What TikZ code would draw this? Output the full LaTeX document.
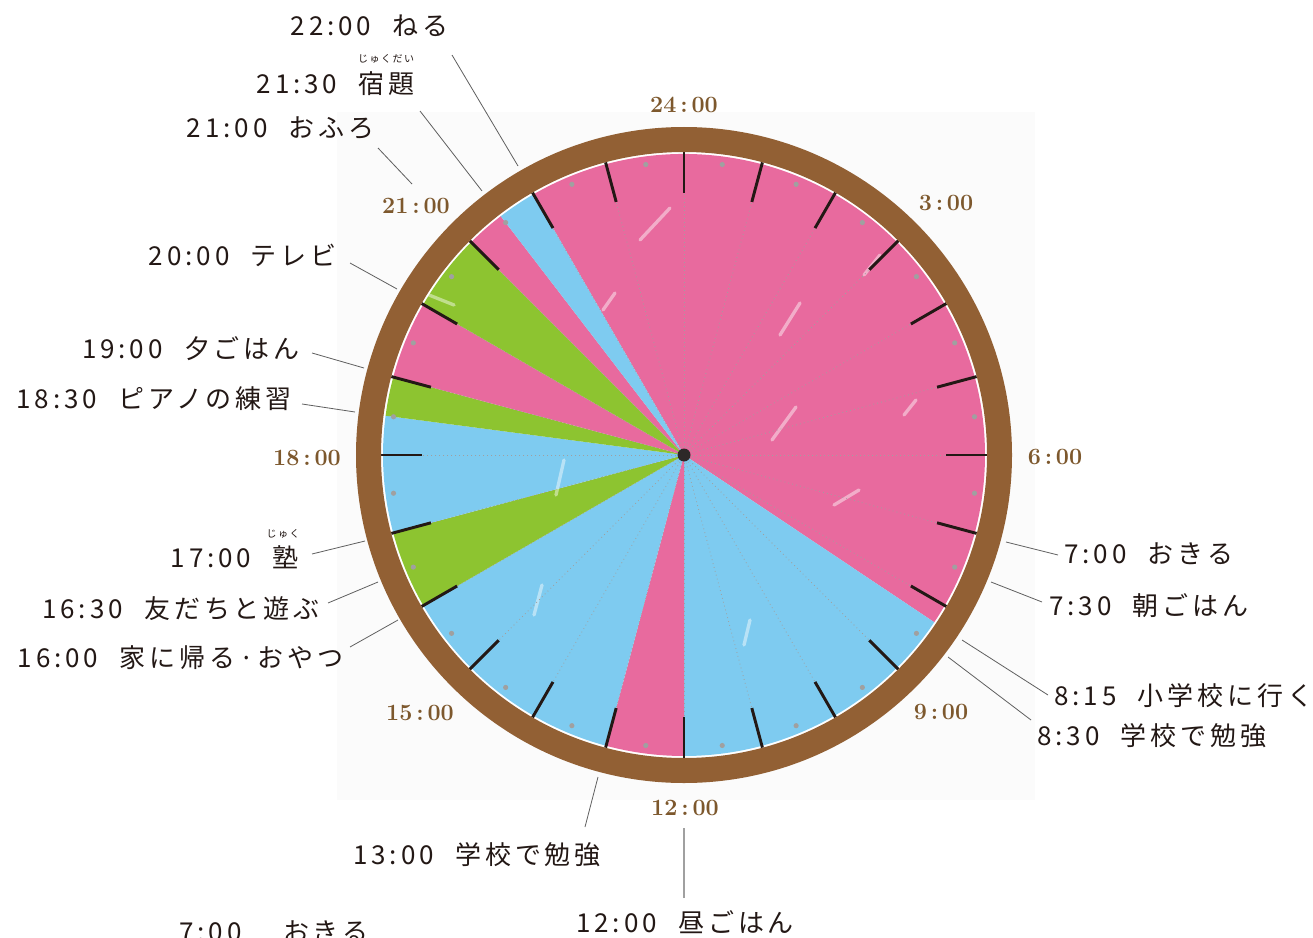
\documentclass[tikz,border=0pt]{standalone}
\usepackage{fontspec}
\newfontfamily\jp[LetterSpace=15]{Noto Sans CJK JP}
\definecolor{pinkfill}{RGB}{232,106,158}
\definecolor{bluefill}{RGB}{126,203,240}
\definecolor{greenfill}{RGB}{141,196,48}
\definecolor{rimbrown}{RGB}{146,96,52}
\definecolor{hourbrown}{RGB}{125,88,45}
\definecolor{textdark}{RGB}{35,24,21}
\definecolor{leader}{RGB}{95,95,95}
\definecolor{dotgray}{RGB}{160,160,160}
\definecolor{hubdark}{RGB}{45,40,40}
\definecolor{paper}{RGB}{251,251,251}
% extra gap between a time and its activity
\newcommand\tgap{\hspace{0.45em}}

\begin{document}
\begin{tikzpicture}[x=0.75pt,y=-0.75pt,
  lbl/.style={font=\jp\fontsize{19.5}{23}\selectfont, text=textdark, inner sep=0pt},
  ruby/.style={font=\jp\fontsize{7.5}{9}\selectfont, text=textdark, inner sep=0pt, anchor=base},
  hourlbl/.style={font=\fontsize{17.5}{20}\selectfont\bfseries, text=hourbrown, inner sep=0pt, anchor=base},
  leaderline/.style={draw=leader, line width=0.6pt},
  tickmark/.style={draw=textdark, line width=2.2pt},
  radial/.style={draw=dotgray, line width=0.6pt, dash pattern=on 0.6pt off 2.4pt},
  streak/.style={draw=white, line width=2.5pt, line cap=round, opacity=0.45}
]
\useasboundingbox (0,0) rectangle (1313,938);
\clip (0,0) rectangle (1313,938);
\fill[white] (0,0) rectangle (1313,938);
% faint paper behind the dial
\fill[paper] (337,112) rectangle (1035,800);

\begin{scope}[shift={(684,455)}]
  \fill[white] (0,0) circle[radius=304];
  % activity sectors, angle = -90 + 15*hour (clockwise from the top)
  \foreach \a/\b/\c in {240/393.75/pinkfill, 33.75/90/bluefill, 90/105/pinkfill,
      105/150/bluefill, 150/165/greenfill, 165/187.5/bluefill, 187.5/195/greenfill,
      195/210/pinkfill, 210/225/greenfill, 225/232.5/pinkfill, 232.5/240/bluefill}
    \fill[\c] (0,0) -- (\a:301) arc[start angle=\a, end angle=\b, radius=301] -- cycle;
  % brush streaks
  \draw[streak] (88,-15) -- (112,-48);
  \draw[streak] (96,-120) -- (116,-152);
  \draw[streak] (180,-180) -- (196,-200);
  \draw[streak] (220,-40) -- (232,-55);
  \draw[streak] (-44,-215) -- (-14,-247);
  \draw[streak] (-81,-145) -- (-69,-162);
  \draw[streak] (-150,160) -- (-142,130);
  \draw[streak] (-128,40) -- (-120,5);
  \draw[streak] (60,190) -- (66,165);
  \draw[streak] (150,50) -- (175,35);
  \draw[streak] (-255,-160) -- (-230,-150);
  % radial dotted guides and hour ticks
  \foreach \h in {0,...,23} {
    \draw[radial] (0,0) -- ({-90+15*\h}:262);
    \draw[tickmark] ({-90+15*\h}:262) -- ({-90+15*\h}:303);
    \fill[dotgray] ({-82.5+15*\h}:293) circle[radius=2.6];
  }
  % rim
  \fill[rimbrown, even odd rule] (0,0) circle[radius=328] (0,0) circle[radius=303];
\end{scope}
\node[circle, fill=hubdark, inner sep=0pt, minimum size=9.75pt] (hub) at (684,455) {};

% hour numerals
\node[hourlbl] (h24) at (684,113) {24\,:\,00};
\node[hourlbl] (h03) at (946,210) {3\,:\,00};
\node[hourlbl] (h06) at (1055,464) {6\,:\,00};
\node[hourlbl] (h09) at (941,719) {9\,:\,00};
\node[hourlbl] (h12) at (685,815) {12\,:\,00};
\node[hourlbl] (h15) at (420,720) {15\,:\,00};
\node[hourlbl] (h18) at (307,465) {18\,:\,00};
\node[hourlbl] (h21) at (416,214) {21\,:\,00};

% activity labels, left side
\node[lbl, anchor=base east] (t2200) at (449,36) {22:00 \tgap ねる};
\node[lbl, anchor=base east] (t2130) at (415,94) {21:30 \tgap 宿題};
\node[ruby] (r2130) at (386,63) {じゅくだい};
\node[lbl, anchor=base east] (t2100) at (375,138) {21:00 \tgap おふろ};
\node[lbl, anchor=base east] (t2000) at (337,265) {20:00 \tgap テレビ};
\node[lbl, anchor=base east] (t1900) at (300,358) {19:00 \tgap 夕ごはん};
\node[lbl, anchor=base east] (t1830) at (292,408) {18:30 \tgap ピアノの練習};
\node[lbl, anchor=base east] (t1700) at (299,567) {17:00 \tgap 塾};
\node[ruby] (r1700) at (283,537) {じゅく};
\node[lbl, anchor=base east] (t1630) at (320,618) {16:30 \tgap 友だちと遊ぶ};
\node[lbl, anchor=base east] (t1600) at (344,667) {16:00 \tgap 家に帰る·おやつ};

% activity labels, right side and bottom
\node[lbl, anchor=base west] (t0700) at (1064,563) {7:00 \tgap おきる};
\node[lbl, anchor=base west] (t0730) at (1049,615) {7:30 \tgap 朝ごはん};
\node[lbl, anchor=base west] (t0815) at (1054,705) {8:15 \tgap 小学校に行く};
\node[lbl, anchor=base west] (t0830) at (1037,745) {8:30 \tgap 学校で勉強};
\node[lbl, anchor=base west] (t1300) at (353,864) {13:00 \tgap 学校で勉強};
\node[lbl, anchor=base west] (t1200) at (576,932) {12:00 \tgap 昼ごはん};
\node[lbl, anchor=base west] (t0700b) at (179,941) {7:00　\tgap おきる};

% leader lines
\coordinate (a2200) at (452,55);   \coordinate (b2200) at (518,166);
\coordinate (a2130) at (420,111);  \coordinate (b2130) at (482,191);
\coordinate (a2100) at (378,148);  \coordinate (b2100) at (412,184);
\coordinate (a2000) at (350,263);  \coordinate (b2000) at (397,289);
\coordinate (a1900) at (312,353);  \coordinate (b1900) at (364,368);
\coordinate (a1830) at (302,404);  \coordinate (b1830) at (355,412);
\coordinate (a1700) at (312,554);  \coordinate (b1700) at (365,541);
\coordinate (a1630) at (328,603);  \coordinate (b1630) at (378,582);
\coordinate (a1600) at (350,647);  \coordinate (b1600) at (398,620);
\coordinate (a0700) at (1058,555); \coordinate (b0700) at (1006,542);
\coordinate (a0730) at (1042,602); \coordinate (b0730) at (991,582);
\coordinate (a0815) at (1048,695); \coordinate (b0815) at (962,640);
\coordinate (a0830) at (1031,720); \coordinate (b0830) at (948,657);
\coordinate (a1300) at (585,827);  \coordinate (b1300) at (598,777);
\coordinate (a1200) at (684,898);  \coordinate (b1200) at (684,828);
\foreach \k in {2200,2130,2100,2000,1900,1830,1700,1630,1600,0700,0730,0815,0830,1300}
  \draw[leaderline] (a\k) -- (b\k);
\draw[leaderline, draw=dotgray, line width=1pt] (a1200) -- (b1200);
\end{tikzpicture}
\end{document}
